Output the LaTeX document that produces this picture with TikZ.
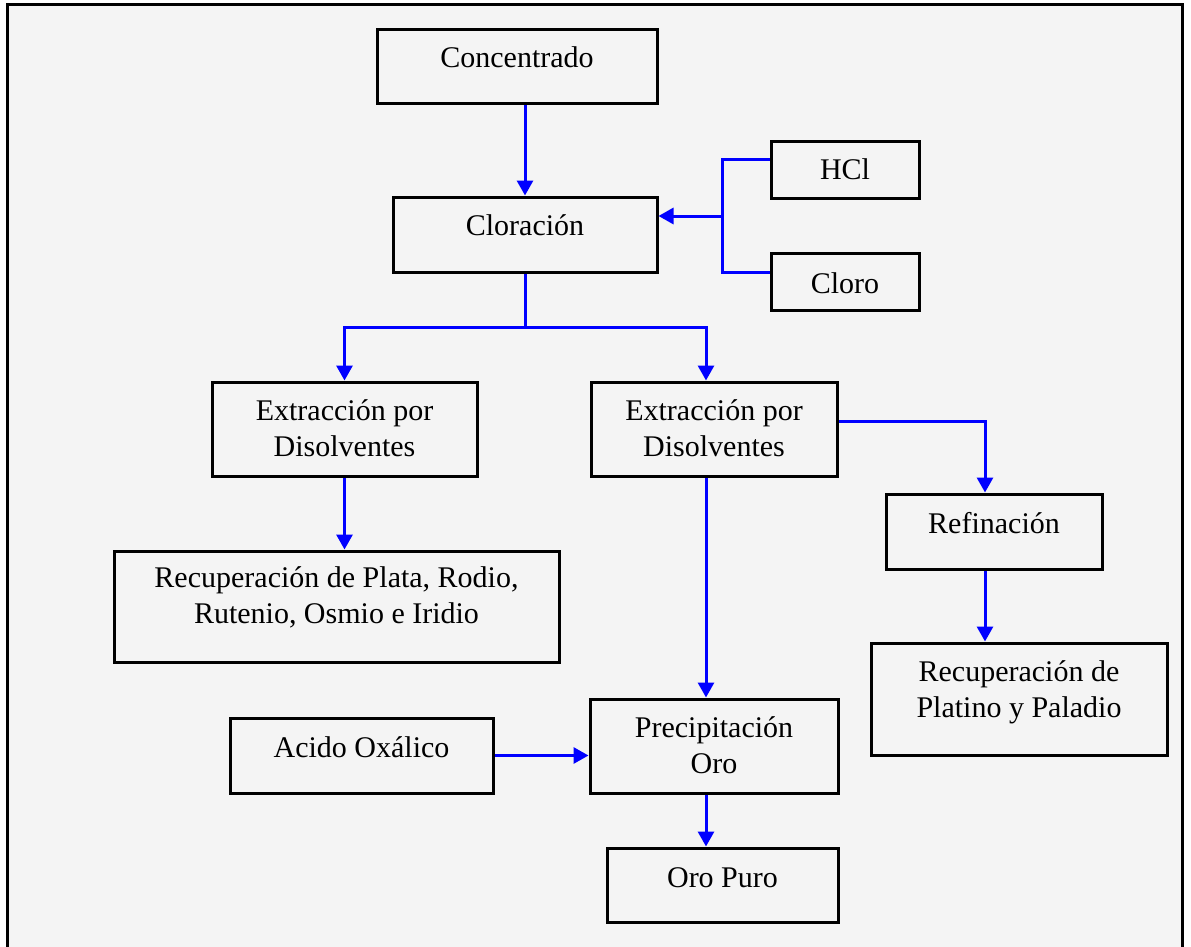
\documentclass[tikz,border=0pt]{standalone}
\usepackage{fontspec}
\setmainfont{Liberation Serif}
\usetikzlibrary{arrows.meta,calc}

\definecolor{paper}{HTML}{F4F4F4}
\definecolor{flow}{RGB}{0,0,255}

\tikzset{
  box/.style={draw=black, line width=3pt, fill=paper, inner sep=0pt},
  lbl/.style={anchor=base, align=center, inner sep=0pt,
              font=\fontsize{30pt}{36pt}\selectfont},
  link/.style={draw=flow, line width=3pt},
  arr/.style={link, -{Triangle[length=15pt,width=16pt]}}
}

\begin{document}
\begin{tikzpicture}[x=1pt, y=-1pt]
  % page and frame
  \fill[white] (0,0) rectangle (1191,947);
  \useasboundingbox (0,0) rectangle (1191,947);
  \fill[paper] (7,5) rectangle (1182,960);
  \draw[line width=3pt] (7,960) -- (7,5) -- (1182,5) -- (1182,960);

  % process boxes
  \node[box, minimum width=280pt, minimum height=74pt]  (conc)  at (517,67)      {};
  \node[box, minimum width=264pt, minimum height=75pt]  (clor)  at (525,234.5)   {};
  \node[box, minimum width=148pt, minimum height=56pt]  (hcl)   at (845,170)     {};
  \node[box, minimum width=148pt, minimum height=57pt]  (cloro) at (845,281.5)   {};
  \node[box, minimum width=265pt, minimum height=94pt]  (ext1)  at (344.5,429)   {};
  \node[box, minimum width=246pt, minimum height=94pt]  (ext2)  at (714,429)     {};
  \node[box, minimum width=445pt, minimum height=111pt] (recpl) at (336.5,606.5) {};
  \node[box, minimum width=216pt, minimum height=75pt]  (ref)   at (994,531.5)   {};
  \node[box, minimum width=296pt, minimum height=112pt] (recpt) at (1019,699)    {};
  \node[box, minimum width=263pt, minimum height=75pt]  (acid)  at (361.5,755.5) {};
  \node[box, minimum width=248pt, minimum height=94pt]  (prec)  at (714,746)     {};
  \node[box, minimum width=231pt, minimum height=74pt]  (oro)   at (722.5,885)   {};

  % labels (placed on their last baseline)
  \node[lbl] (conc-t)  at (517,68)    {Concentrado};
  \node[lbl] (clor-t)  at (525,235)   {Cloración};
  \node[lbl] (hcl-t)   at (845,179)   {HCl};
  \node[lbl] (cloro-t) at (845,293)   {Cloro};
  \node[lbl] (ext1-t)  at (344.5,456) {Extracción por\\Disolventes};
  \node[lbl] (ext2-t)  at (714,456)   {Extracción por\\Disolventes};
  \node[lbl] (recpl-t) at (336.5,623) {Recuperación de Plata, Rodio,\\Rutenio, Osmio e Iridio};
  \node[lbl] (ref-t)   at (994,533)   {Refinación};
  \node[lbl] (recpt-t) at (1019,717)  {Recuperación de\\Platino y Paladio};
  \node[lbl] (acid-t)  at (361.5,757) {Acido Oxálico};
  \node[lbl] (prec-t)  at (714,773)   {Precipitación\\Oro};
  \node[lbl] (oro-t)   at (722.5,887) {Oro Puro};

  % junction points
  \coordinate (split) at (525,327);
  \coordinate (mix)   at (722,216);

  % connectors
  \draw[arr] (conc.south -| clor.north) -- (clor.north);
  \draw[link] (clor.south) -- (split);
  \draw[arr] (split) -| (ext1.north);
  \draw[arr] (split) -| ([xshift=-8pt]ext2.north);

  \draw[link] ([yshift=11pt]hcl.west) -| (mix);
  \draw[link] ([yshift=9.5pt]cloro.west) -| (mix);
  \draw[arr] (mix) -- (mix -| clor.east);

  \draw[arr] (ext1.south) -- (ext1.south |- recpl.north);
  \draw[arr] ([xshift=-8pt]ext2.south) -- ([xshift=-8pt]prec.north);
  \draw[arr] ([yshift=8pt]ext2.east) -| ([xshift=-9pt]ref.north);
  \draw[arr] ([xshift=-9pt]ref.south) -- ([xshift=-9pt]ref.south |- recpt.north);
  \draw[arr] (acid.east) -- (acid.east -| prec.west);
  \draw[arr] ([xshift=-8pt]prec.south) -- ([xshift=-8pt]prec.south |- oro.north);
\end{tikzpicture}
\end{document}
